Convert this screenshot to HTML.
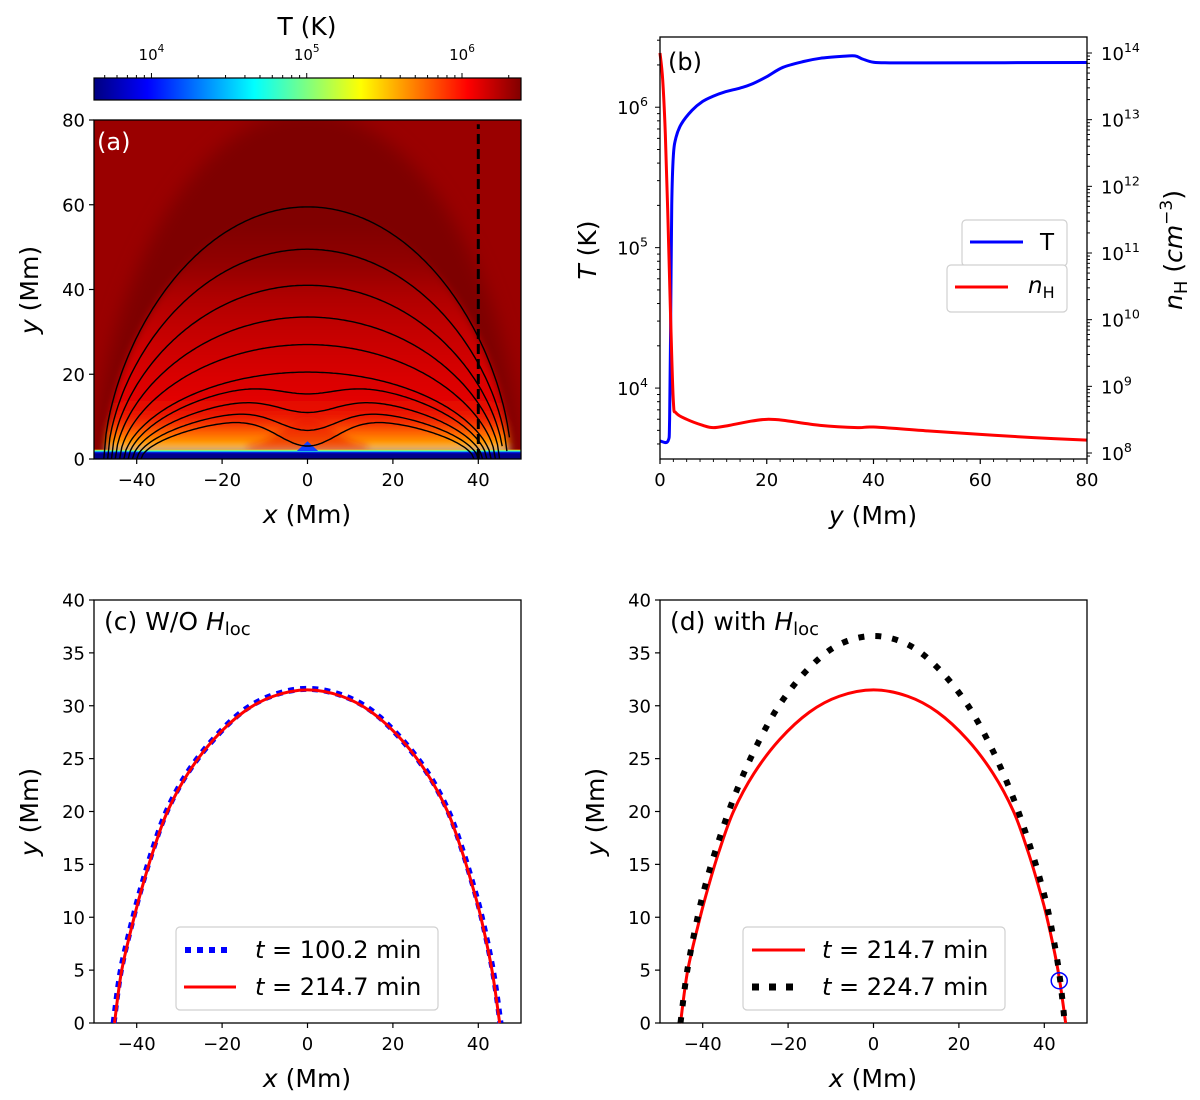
<!DOCTYPE html>
<html><head><meta charset="utf-8">
<style>
html,body{margin:0;padding:0;background:#fff;}
svg{display:block;font-family:"DejaVu Sans","Liberation Sans",sans-serif;}
</style></head>
<body>
<svg id="fig" width="1200" height="1100" viewBox="0 0 1200 1100" xmlns="http://www.w3.org/2000/svg">
<defs>
<linearGradient id="jet" x1="0" y1="0" x2="1" y2="0">
<stop offset="0" stop-color="#000080"/><stop offset="0.125" stop-color="#0000ff"/>
<stop offset="0.375" stop-color="#00ffff"/><stop offset="0.625" stop-color="#ffff00"/>
<stop offset="0.875" stop-color="#ff0000"/><stop offset="1" stop-color="#800000"/>
</linearGradient>
<filter id="blur8" x="-20%" y="-20%" width="140%" height="140%"><feGaussianBlur stdDeviation="9"/></filter>
<filter id="blur4" x="-20%" y="-20%" width="140%" height="140%"><feGaussianBlur stdDeviation="4"/></filter>
<clipPath id="clipA"><rect x="94" y="120" width="427" height="339"/></clipPath>
</defs>
</svg>
<script>
// ---------- data ----------
const cbTicks = [4, 5, 6];
const fieldApex = [59.5, 49.5, 41, 33.5, 27, 20.5, 18.1, 14.9, 12.2, 10.2];
const fieldFoot = [47.7, 46.8, 45.9, 45, 44, 43, 42, 41, 40, 39];
const fieldDip  = [0, 0, 0, 0, 0, 0, 2.74, 3.92, 5.44, 7.14];
const cutX = 40;

const profY = [0, 1.5, 1.8, 2.0, 2.2, 2.5, 3, 4, 6, 8, 10, 12, 15, 17, 20, 23, 27, 30, 34, 36.5, 38, 40, 43, 50, 80];
const profT = [4200, 4200, 6000, 30000, 200000, 450000, 610000, 760000, 950000, 1100000, 1200000, 1280000, 1370000, 1450000, 1650000, 1920000, 2120000, 2230000, 2300000, 2320000, 2200000, 2090000, 2070000, 2070000, 2080000];
const profNy = [0, 0.5, 1, 1.5, 2, 2.5, 3, 5, 8, 10, 13, 17, 20, 23, 30, 37, 40, 50, 60, 70, 80];
const profN  = [1e14, 4e13, 6e12, 3e11, 1e10, 6e8, 4e8, 3.2e8, 2.6e8, 2.4e8, 2.6e8, 3e8, 3.2e8, 3.1e8, 2.6e8, 2.4e8, 2.45e8, 2.15e8, 1.9e8, 1.7e8, 1.56e8];

const arcCx = [-45.2, -43.5, -40.6, -38.6, -36.2, -32.8, -28, -22, -15, -8, 0, 8, 15, 22, 28, 32.8, 36.2, 38.6, 40.6, 43.2, 45.0];
const arcCy = [0, 5.0, 10, 13.0, 16.2, 20.0, 23.6, 26.8, 29.4, 30.9, 31.5, 30.9, 29.4, 26.8, 23.6, 20.0, 16.2, 13.0, 10, 5.0, 0];
const arcBx = [-45.4, -43.7, -40.8, -38.8, -36.4, -33.0, -28.2, -22.1, -15.1, -8, 0, 8, 15.1, 22.1, 28.2, 33.0, 36.4, 38.8, 40.8, 43.4, 45.2];
const arcBy = [0, 5.0, 10, 13.0, 16.2, 20.0, 23.6, 26.8, 29.5, 31.0, 31.6, 31.0, 29.5, 26.8, 23.6, 20.0, 16.2, 13.0, 10, 5.0, 0];
const arcDx = [-45.2, -43.6, -41.2, -39.4, -37, -33, -28, -22, -15, -8, 0, 8, 15, 22, 28, 33, 37, 39.4, 41.2, 43.4, 44.8];
const arcDy = [0, 5, 10, 13, 16.3, 21.0, 25.7, 30.1, 33.6, 35.8, 36.6, 35.8, 33.6, 30.1, 25.7, 21.0, 16.3, 13, 10, 5, 0];
const markX = 43.5, markY = 4;

// ---------- helpers ----------
const NS = 'http://www.w3.org/2000/svg';
const svg = document.getElementById('fig');
function el(tag, attrs, parent) {
  const e = document.createElementNS(NS, tag);
  for (const k in attrs) e.setAttribute(k, attrs[k]);
  (parent || svg).appendChild(e);
  return e;
}
function lin(d0, d1, r0, r1) { return v => r0 + (v - d0) / (d1 - d0) * (r1 - r0); }
function logs(d0, d1, r0, r1) { return v => r0 + (Math.log10(v) - d0) / (d1 - d0) * (r1 - r0); }
function crPath(pts) {
  let d = 'M' + pts[0][0].toFixed(2) + ',' + pts[0][1].toFixed(2);
  for (let i = 0; i < pts.length - 1; i++) {
    const p0 = pts[Math.max(0, i - 1)], p1 = pts[i], p2 = pts[i + 1], p3 = pts[Math.min(pts.length - 1, i + 2)];
    const c1x = p1[0] + (p2[0] - p0[0]) / 6, c1y = p1[1] + (p2[1] - p0[1]) / 6;
    const c2x = p2[0] - (p3[0] - p1[0]) / 6, c2y = p2[1] - (p3[1] - p1[1]) / 6;
    d += 'C' + c1x.toFixed(2) + ',' + c1y.toFixed(2) + ' ' + c2x.toFixed(2) + ',' + c2y.toFixed(2) + ' ' + p2[0].toFixed(2) + ',' + p2[1].toFixed(2);
  }
  return d;
}
function txt(x, y, s, size, anchor, g, extra) {
  const t = el('text', Object.assign({x: x, y: y, 'font-size': size, 'text-anchor': anchor || 'middle', fill: '#000'}, extra || {}), g);
  t.textContent = s;
  return t;
}
function pow10(x, y, e, anchor, g, size) {
  const t = el('text', {x: x, y: y, 'font-size': size || 18, 'text-anchor': anchor, fill: '#000'}, g);
  t.appendChild(document.createTextNode('10'));
  const s = el('tspan', {dy: -8, 'font-size': (size || 18) * 0.7}, t);
  s.textContent = e;
  return t;
}
function frame(x0, y0, x1, y1, g) {
  el('rect', {x: x0, y: y0, width: x1 - x0, height: y1 - y0, fill: 'none', stroke: '#000', 'stroke-width': 1.3}, g);
}
function linTicks(g, sx, sy, xt, yt, x0, y1) {
  xt.forEach(v => {
    const X = sx(v);
    el('line', {x1: X, y1: y1, x2: X, y2: y1 + 5, stroke: '#000', 'stroke-width': 1.2}, g);
    txt(X, y1 + 27, v < 0 ? '\u2212' + Math.abs(v) : String(v), 18, 'middle', g);
  });
  yt.forEach(v => {
    const Y = sy(v);
    el('line', {x1: x0 - 5, y1: Y, x2: x0, y2: Y, stroke: '#000', 'stroke-width': 1.2}, g);
    txt(x0 - 9, Y + 6.5, String(v), 18, 'end', g);
  });
}
function yLabel(x, y, parts, g) {
  const t = el('text', {x: x, y: y, 'font-size': 25, 'text-anchor': 'middle', fill: '#000', transform: 'rotate(-90 ' + x + ' ' + y + ')'}, g);
  parts.forEach(p => { const s = el('tspan', p.a || {}, t); s.textContent = p.t; });
  return t;
}
function xLabel(x, y, v, g) {
  const t = el('text', {x: x, y: y, 'font-size': 25, 'text-anchor': 'middle', fill: '#000'}, g);
  const a = el('tspan', {'font-style': 'italic'}, t); a.textContent = v;
  const b = el('tspan', {}, t); b.textContent = ' (Mm)';
  return t;
}

// ---------- colorbar ----------
const gcb = el('g', {});


const cbx = logs(3.63, 6.38, 94, 521);
el('rect', {x: 94, y: 78, width: 427, height: 22, fill: 'url(#jet)', stroke: '#000', 'stroke-width': 1.2}, gcb);
for (let e = 3; e <= 6; e++) for (let m = 1; m <= 9; m++) {
  const v = m * Math.pow(10, e);
  const lv = Math.log10(v);
  if (lv < 3.63 || lv > 6.38) continue;
  const X = cbx(v);
  el('line', {x1: X, y1: 78, x2: X, y2: m === 1 ? 73 : 75, stroke: '#000', 'stroke-width': 1}, gcb);
}
cbTicks.forEach(e => pow10(cbx(Math.pow(10, e)), 60, e, 'middle', gcb, 15));
const cbt = txt(307, 35, 'T (K)', 25, 'middle', gcb);



// ---------- panel (a) ----------
const ga = el('g', {});


const ax = lin(-50, 50, 94, 521), ay = lin(0, 80, 459, 120);
const gah = el('g', {'clip-path': 'url(#clipA)'}, ga);
el('rect', {x: 94, y: 120, width: 427, height: 339, fill: '#9a0000'}, gah);
function envPath(a, w, D, sx, sy) {
  const pts = [];
  for (let x = -w; x <= w + 1e-9; x += 0.5) {
    const b = Math.max(0, 1 - (x / w) * (x / w));
    pts.push([sx(x), sy(a * Math.pow(b, 0.6) - D * Math.exp(-(x / 10) * (x / 10)))]);
  }
  return pts;
}
const domePts = envPath(82, 50, 0, ax, ay);
el('path', {d: 'M' + domePts.map(p => p[0].toFixed(1) + ',' + p[1].toFixed(1)).join('L') + 'Z', fill: '#7e0000', filter: 'url(#blur8)'}, gah);
const grad = el('linearGradient', {id: 'inner', gradientUnits: 'userSpaceOnUse', x1: 0, y1: ay(80), x2: 0, y2: ay(0)}, svg.querySelector('defs'));
[[80, '#7e0000'], [55, '#800000'], [46, '#920000'], [38, '#b00000'], [30, '#c40000'], [20, '#d80000'], [12, '#e60800'], [9, '#f02400'], [6.5, '#ff5a00'], [4, '#ff9400'], [2.6, '#ffb800'], [2.0, '#ffe000'], [1.85, '#40ffc0'], [1.7, '#0030ff'], [1.5, '#0000a0'], [0, '#00008a']].forEach(s => {
  el('stop', {offset: ((80 - s[0]) / 80).toFixed(4), 'stop-color': s[1]}, grad);
});
const innerPts = envPath(60, 47.5, 0, ax, ay);
el('path', {d: 'M' + innerPts.map(p => p[0].toFixed(1) + ',' + p[1].toFixed(1)).join('L') + 'Z', fill: 'url(#inner)', filter: 'url(#blur4)'}, gah);
const dipPts = [];
for (let x = -14; x <= 14; x += 0.5) dipPts.push([ax(x), ay(3 + 7 * Math.exp(-(x / 8) * (x / 8)))]);
el('path', {d: 'M' + ax(-14) + ',' + ay(2) + 'L' + dipPts.map(p => p[0].toFixed(1) + ',' + p[1].toFixed(1)).join('L') + 'L' + ax(14) + ',' + ay(2) + 'Z', fill: '#e81000', opacity: 0.55, filter: 'url(#blur4)'}, gah);
const stripG = el('linearGradient', {id: 'strip', gradientUnits: 'userSpaceOnUse', x1: 0, y1: ay(2.2), x2: 0, y2: ay(0)}, svg.querySelector('defs'));
[[0, '#ffd000'], [0.12, '#60ffa0'], [0.22, '#00a0ff'], [0.32, '#0000d0'], [0.5, '#00008a'], [1, '#00008a']].forEach(s => el('stop', {offset: s[0], 'stop-color': s[1]}, stripG));
el('rect', {x: 94, y: ay(2.2), width: 427, height: ay(0) - ay(2.2), fill: 'url(#strip)'}, gah);
el('path', {d: 'M' + ax(-2.5) + ',' + ay(1.9) + 'L' + ax(0) + ',' + ay(4.2) + 'L' + ax(2.5) + ',' + ay(1.9) + 'Z', fill: '#1040ff'}, gah);
fieldApex.forEach((a, i) => {
  const pts = envPath(a, fieldFoot[i], fieldDip[i], ax, ay);
  const p = el('path', {d: 'M' + pts.map(q => q[0].toFixed(1) + ',' + q[1].toFixed(1)).join('L'), fill: 'none', stroke: '#000', 'stroke-width': 1.4}, gah);
  
  
});
const cut = el('line', {x1: ax(cutX), y1: ay(0), x2: ax(cutX), y2: ay(79), stroke: '#000', 'stroke-width': 3, 'stroke-dasharray': '10,5'}, gah);


frame(94, 120, 521, 459, ga);
linTicks(ga, ax, ay, [-40, -20, 0, 20, 40], [0, 20, 40, 60, 80], 94, 459);
txt(97, 150, '(a)', 24, 'start', ga, {fill: '#fff'});
xLabel(307, 523, 'x', ga);
yLabel(38, 290, [{t: 'y', a: {'font-style': 'italic'}}, {t: ' (Mm)'}], ga);

// ---------- panel (b) ----------
const gb = el('g', {});


const bx = lin(0, 80, 660, 1087), bT = logs(3.495, 6.50, 459, 37), bN = logs(7.91, 14.24, 459, 37);
for (let v = 0; v <= 80; v += 20) {
  el('line', {x1: bx(v), y1: 459, x2: bx(v), y2: 464, stroke: '#000', 'stroke-width': 1.2}, gb);
  txt(bx(v), 486, String(v), 18, 'middle', gb);
}
for (let v = 2.5; v < 80; v += 2.5) if (v % 20) el('line', {x1: bx(v), y1: 459, x2: bx(v), y2: 462, stroke: '#000', 'stroke-width': 0.9}, gb);
for (let e = 3; e <= 6; e++) for (let m = 1; m <= 9; m++) {
  const v = m * Math.pow(10, e), lv = Math.log10(v);
  if (lv < 3.495 || lv > 6.5) continue;
  el('line', {x1: 660 - (m === 1 ? 5 : 3), y1: bT(v), x2: 660, y2: bT(v), stroke: '#000', 'stroke-width': 1}, gb);
  if (m === 1) pow10(648, bT(v) + 7, e, 'end', gb);
}
for (let e = 7; e <= 14; e++) for (let m = 1; m <= 9; m++) {
  const v = m * Math.pow(10, e), lv = Math.log10(v);
  if (lv < 7.91 || lv > 14.24) continue;
  el('line', {x1: 1087, y1: bN(v), x2: 1087 + (m === 1 ? 5 : 3), y2: bN(v), stroke: '#000', 'stroke-width': 1}, gb);
  if (m === 1) pow10(1101, bN(v) + 7, e, 'start', gb);
}
const tPath = el('path', {d: crPath(profY.map((y, i) => [bx(y), bT(profT[i])])), fill: 'none', stroke: '#0000ff', 'stroke-width': 3}, gb);


const nPath = el('path', {d: crPath(profNy.map((y, i) => [bx(y), bN(profN[i])])), fill: 'none', stroke: '#ff0000', 'stroke-width': 3}, gb);


frame(660, 37, 1087, 459, gb);
txt(668, 70, '(b)', 24, 'start', gb);
xLabel(873, 524, 'y', gb);
yLabel(596, 250, [{t: 'T', a: {'font-style': 'italic'}}, {t: ' (K)'}], gb);
yLabel(1182, 250, [{t: 'n', a: {'font-style': 'italic'}}, {t: 'H', a: {'font-size': 18, dy: 5}}, {t: ' (', a: {dy: -5}}, {t: 'cm', a: {'font-style': 'italic'}}, {t: '\u22123', a: {'font-size': 17, dy: -10}}, {t: ')', a: {dy: 10}}], gb);
const lb1 = el('g', {}, gb);


el('rect', {x: 962, y: 220, width: 105, height: 46, rx: 4, fill: '#fff', stroke: '#d0d0d0', 'stroke-width': 1.2}, lb1);
el('line', {x1: 970, y1: 242, x2: 1023, y2: 242, stroke: '#0000ff', 'stroke-width': 3}, lb1);
txt(1047, 250, 'T', 23, 'middle', lb1);
const lb2 = el('g', {}, gb);


el('rect', {x: 947, y: 265, width: 120, height: 47, rx: 4, fill: '#fff', stroke: '#d0d0d0', 'stroke-width': 1.2}, lb2);
el('line', {x1: 955, y1: 287, x2: 1008, y2: 287, stroke: '#ff0000', 'stroke-width': 3}, lb2);
const nt = el('text', {x: 1028, y: 293, 'font-size': 23, fill: '#000'}, lb2);
const n1 = el('tspan', {'font-style': 'italic'}, nt); n1.textContent = 'n';
const n2 = el('tspan', {'font-size': 16, dy: 5}, nt); n2.textContent = 'H';

// ---------- panels (c) & (d) ----------
function arcPanel(x0, name, title) {
  const g = el('g', {});
  
  
  const sx = lin(-50, 50, x0, x0 + 427), sy = lin(0, 40, 1023, 600);
  frame(x0, 600, x0 + 427, 1023, g);
  linTicks(g, sx, sy, [-40, -20, 0, 20, 40], [0, 5, 10, 15, 20, 25, 30, 35, 40], x0, 1023);
  const t = el('text', {x: x0 + 10, y: 630, 'font-size': 25, fill: '#000'}, g);
  const a1 = el('tspan', {}, t); a1.textContent = title + ' ';
  const a2 = el('tspan', {'font-style': 'italic'}, t); a2.textContent = 'H';
  const a3 = el('tspan', {'font-size': 18, dy: 5}, t); a3.textContent = 'loc';
  xLabel(x0 + 213, 1087, 'x', g);
  yLabel(x0 - 56, 812, [{t: 'y', a: {'font-style': 'italic'}}, {t: ' (Mm)'}], g);
  return {g: g, sx: sx, sy: sy};
}
function legendText(g, x, y, s) {
  const t = el('text', {x: x, y: y, 'font-size': 24, fill: '#000'}, g);
  const a = el('tspan', {'font-style': 'italic'}, t); a.textContent = 't';
  const b = el('tspan', {}, t); b.textContent = ' = ' + s;
}
const C = arcPanel(94, 'panel-c-without-hloc', '(c) W/O');
const cb = el('path', {d: crPath(arcBx.map((x, i) => [C.sx(x), C.sy(arcBy[i])])), fill: 'none', stroke: '#0000ff', 'stroke-width': 6, 'stroke-dasharray': '6,6'}, C.g);


const cr = el('path', {d: crPath(arcCx.map((x, i) => [C.sx(x), C.sy(arcCy[i])])), fill: 'none', stroke: '#ff0000', 'stroke-width': 3}, C.g);


const lc = el('g', {}, C.g);


el('rect', {x: 176, y: 927, width: 262, height: 83, rx: 4, fill: '#fff', 'fill-opacity': 0.85, stroke: '#d0d0d0', 'stroke-width': 1.2}, lc);
el('line', {x1: 185, y1: 950, x2: 233, y2: 950, stroke: '#0000ff', 'stroke-width': 6, 'stroke-dasharray': '6,6'}, lc);
legendText(lc, 255, 958, '100.2 min');
el('line', {x1: 184, y1: 987, x2: 236, y2: 987, stroke: '#ff0000', 'stroke-width': 3}, lc);
legendText(lc, 255, 995, '214.7 min');

const D = arcPanel(660, 'panel-d-with-hloc', '(d) with');
const dr = el('path', {d: crPath(arcCx.map((x, i) => [D.sx(x), D.sy(arcCy[i])])), fill: 'none', stroke: '#ff0000', 'stroke-width': 3}, D.g);


const dk = el('path', {d: crPath(arcDx.map((x, i) => [D.sx(x), D.sy(arcDy[i])])), fill: 'none', stroke: '#000', 'stroke-width': 6, 'stroke-dasharray': '6,11'}, D.g);


const mk = el('circle', {cx: D.sx(markX), cy: D.sy(markY), r: 8, fill: 'none', stroke: '#0000ff', 'stroke-width': 1.5}, D.g);


const ld = el('g', {}, D.g);


el('rect', {x: 743, y: 927, width: 262, height: 83, rx: 4, fill: '#fff', 'fill-opacity': 0.85, stroke: '#d0d0d0', 'stroke-width': 1.2}, ld);
el('line', {x1: 752, y1: 950, x2: 805, y2: 950, stroke: '#ff0000', 'stroke-width': 3}, ld);
legendText(ld, 822, 958, '214.7 min');
el('line', {x1: 752, y1: 987, x2: 799, y2: 987, stroke: '#000', 'stroke-width': 7, 'stroke-dasharray': '7,10'}, ld);
legendText(ld, 822, 995, '224.7 min');
</script>
</body></html>
